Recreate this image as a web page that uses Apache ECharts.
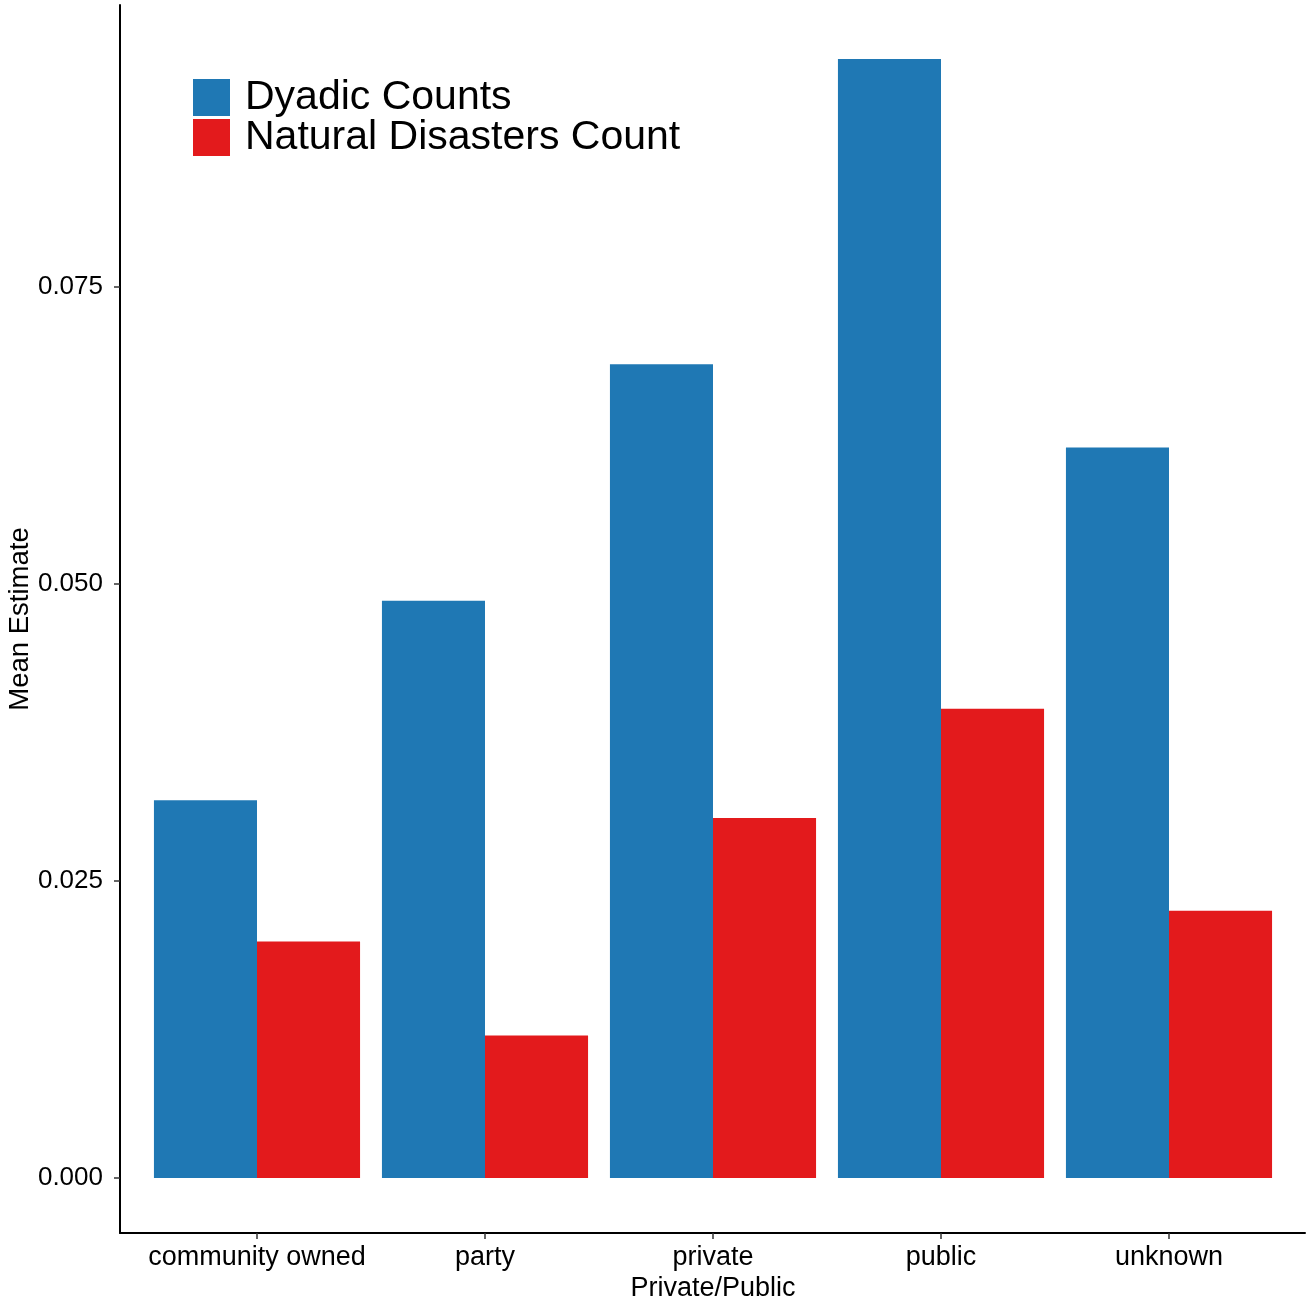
<!DOCTYPE html>
<html>
<head>
<meta charset="utf-8">
<script src="https://cdn.jsdelivr.net/npm/echarts@6/dist/echarts.min.js"></script>
<style>html,body{margin:0;padding:0;background:#fff;overflow:hidden}#c{width:1307px;height:1301px}</style>
</head>
<body>
<div id="c"></div>
<script>
const categories = ['community owned', 'party', 'private', 'public', 'unknown'];
const dyadicCounts = [0.0318, 0.0486, 0.0685, 0.0942, 0.0615];
const naturalDisastersCount = [0.0199, 0.0120, 0.0303, 0.0395, 0.0225];
const yTicks = [0, 0.025, 0.05, 0.075];
const yMin = -0.00463, yMax = 0.09874;

const FONT = '"Liberation Sans", Arial, sans-serif';
const chart = echarts.init(document.getElementById('c'), null, {renderer: 'canvas'});
chart.setOption({
  animation: false,
  backgroundColor: '#fff',
  textStyle: {fontFamily: FONT},
  legend: {
    orient: 'vertical', left: 193, top: 77, padding: 0,
    itemWidth: 37, itemHeight: 37, itemGap: -1,
    icon: 'rect',
    textStyle: {fontSize: 41, lineHeight: 37, color: '#000', fontFamily: FONT, padding: [2, 0, 0, 10]},
    data: ['Dyadic Counts', 'Natural Disasters Count']
  },
  grid: [
    {left: 143, right: 24, top: 5, bottom: 68, containLabel: false, outerBoundsMode: 'none'},
    {left: 120, right: 2, top: 5, bottom: 68, containLabel: false, outerBoundsMode: 'none'}
  ],
  xAxis: [
    {
      type: 'category', gridIndex: 0, data: categories,
      axisLine: {show: false, onZero: false},
      axisTick: {show: true, alignWithLabel: true, length: 6, lineStyle: {color: '#333', width: 1.5}},
      axisLabel: {fontSize: 27, color: '#000', margin: 11, interval: 0, fontFamily: FONT},
      name: 'Private/Public', nameLocation: 'middle', nameGap: 42, nameMoveOverlap: false,
      nameTextStyle: {fontSize: 27, color: '#000', fontFamily: FONT}
    },
    {
      type: 'value', gridIndex: 1, min: 0, max: 1,
      axisLine: {show: true, onZero: false, lineStyle: {color: '#000', width: 2}},
      axisTick: {show: false}, axisLabel: {show: false}, splitLine: {show: false}
    }
  ],
  yAxis: [
    {
      type: 'value', gridIndex: 0, min: yMin, max: yMax, offset: 23,
      axisLine: {show: true, onZero: false, lineStyle: {color: '#000', width: 2}},
      axisTick: {show: true, length: 6, customValues: yTicks, lineStyle: {color: '#333', width: 1.5}},
      axisLabel: {fontSize: 26, color: '#000', margin: 17, customValues: yTicks, fontFamily: FONT,
        formatter: v => v.toFixed(3)},
      splitLine: {show: false},
      name: 'Mean Estimate', nameLocation: 'middle', nameGap: 86, nameMoveOverlap: false,
      nameTextStyle: {fontSize: 27.5, color: '#000', fontFamily: FONT}
    },
    {
      type: 'value', gridIndex: 1, show: false
    }
  ],
  series: [
    {
      name: 'Dyadic Counts', type: 'bar', xAxisIndex: 0, yAxisIndex: 0,
      data: dyadicCounts, itemStyle: {color: '#1F78B4'},
      barGap: '0%', barCategoryGap: '9.6%'
    },
    {
      name: 'Natural Disasters Count', type: 'bar', xAxisIndex: 0, yAxisIndex: 0,
      data: naturalDisastersCount, itemStyle: {color: '#E31A1C'},
      barGap: '0%', barCategoryGap: '9.6%'
    }
  ]
});
</script>
</body>
</html>
